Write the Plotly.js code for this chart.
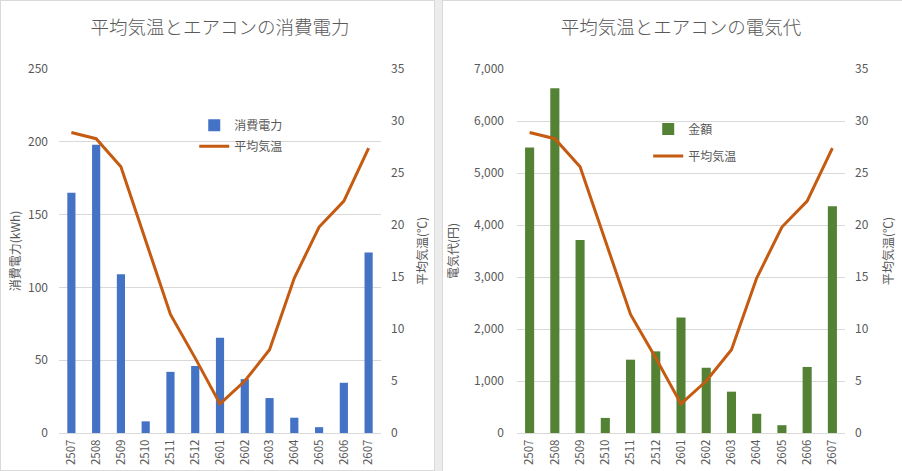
<!DOCTYPE html>
<html>
<head>
<meta charset="utf-8">
<script src="https://cdn.plot.ly/plotly-3.0.1.min.js"></script>
<style>
  html, body { margin: 0; padding: 0; background: #ffffff; }
  #wrap { position: relative; width: 902px; height: 471px; background: #ececec; overflow: hidden; }
  #c1 { position: absolute; left: 0; top: 0; width: 435px; height: 471px; background: #fff; box-sizing: border-box; border: 1px solid #d9d9d9; }
  #c2 { position: absolute; left: 442px; top: 0; width: 460px; height: 471px; background: #fff; box-sizing: border-box; border-top: 1px solid #d9d9d9; border-left: 1px solid #d9d9d9; }
</style>
</head>
<body>
<div id="wrap">
  <div id="c1"></div>
  <div id="c2"></div>
</div>
<script>
// ---- data ----
const months = ['2507','2508','2509','2510','2511','2512','2601','2602','2603','2604','2605','2606','2607'];
const avgTemp = [28.9, 28.3, 25.6, 18.6, 11.4, 7.2, 2.8, 5.0, 8.0, 14.9, 19.8, 22.3, 27.4];
const powerKWh = [165, 198, 109, 8, 42, 46, 65.5, 37, 24, 10.5, 4, 34.5, 124];
const costYen = [5490, 6630, 3710, 290, 1410, 1570, 2220, 1255, 795, 370, 150, 1270, 4360];

const FONT = '"Noto Sans CJK JP", "Noto Sans", sans-serif';
const TXT = '#595959';
const GRID = '#d9d9d9';
const LINEC = '#C55A11';

function makeLayout(opts) {
  return {
    width: opts.width, height: 471,
    margin: { l: opts.l, r: opts.r, t: 68, b: 39, pad: 0 },
    paper_bgcolor: 'rgba(0,0,0,0)',
    plot_bgcolor: '#ffffff',
    font: { family: FONT, color: TXT, size: 12 },
    title: {
      text: opts.title,
      font: { family: FONT, size: 18.5, color: TXT, weight: 300 },
      x: 0.5, xref: 'paper', xanchor: 'center',
      y: 1 - 27 / 471, yref: 'container', yanchor: 'middle'
    },
    showlegend: true,
    legend: {
      x: opts.legx, y: opts.legy, xanchor: 'left', yanchor: 'top',
      bgcolor: 'rgba(0,0,0,0)', font: { family: FONT, size: 12, color: TXT },
      traceorder: 'grouped', tracegroupgap: opts.gap, itemwidth: 30
    },
    bargap: opts.bargap,
    xaxis: {
      type: 'category', tickangle: -90, showgrid: false, zeroline: false,
      showline: true, linecolor: GRID, linewidth: 1, ticks: '',
      tickfont: { family: FONT, size: 11.5, color: TXT }, ticklabelstandoff: 1
    },
    yaxis: {
      range: opts.yrange, dtick: opts.dtick, tickformat: opts.tickformat,
      showgrid: true, gridcolor: GRID, gridwidth: 1, zeroline: false, ticks: '',
      tickfont: { family: FONT, size: 12, color: TXT }, ticklabelstandoff: opts.ystand,
      title: { text: opts.ytitle, font: { family: FONT, size: 12, color: TXT }, standoff: opts.ytstand }
    },
    yaxis2: {
      range: [0, 35], dtick: 5, overlaying: 'y', side: 'right',
      showgrid: false, zeroline: false, ticks: '',
      tickfont: { family: FONT, size: 12, color: TXT }, ticklabelstandoff: 9,
      title: { text: '平均気温(℃)', font: { family: FONT, size: 12, color: TXT }, standoff: opts.y2tstand }
    }
  };
}

function lineTrace() {
  return {
    type: 'scatter', mode: 'lines', name: '平均気温', x: months, y: avgTemp,
    yaxis: 'y2', line: { color: LINEC, width: 3 }, legendgroup: 'g2', hoverinfo: 'skip'
  };
}

const cfg = { displayModeBar: false, staticPlot: true };

Plotly.newPlot('c1', [
  { type: 'bar', name: '消費電力', x: months, y: powerKWh, marker: { color: '#4472C4' }, legendgroup: 'g1', hoverinfo: 'skip' },
  lineTrace()
], makeLayout({
  width: 435, l: 58, r: 55, title: '平均気温とエアコンの消費電力',
  legx: 0.42, legy: 0.885, gap: 2, bargap: 0.67,
  yrange: [0, 250], dtick: 50, tickformat: 'd', ytitle: '消費電力(kWh)',
  ystand: 10, ytstand: 4, y2tstand: 14
}), cfg);

Plotly.newPlot('c2', [
  { type: 'bar', name: '金額', x: months, y: costYen, marker: { color: '#548235' }, legendgroup: 'g1', hoverinfo: 'skip' },
  lineTrace()
], makeLayout({
  width: 460, l: 74, r: 58, title: '平均気温とエアコンの電気代',
  legx: 0.4, legy: 0.875, gap: 8, bargap: 0.64,
  yrange: [0, 7000], dtick: 1000, tickformat: ',d', ytitle: '電気代(円)',
  ystand: 12, ytstand: 12, y2tstand: 16
}), cfg);
</script>
</body>
</html>
